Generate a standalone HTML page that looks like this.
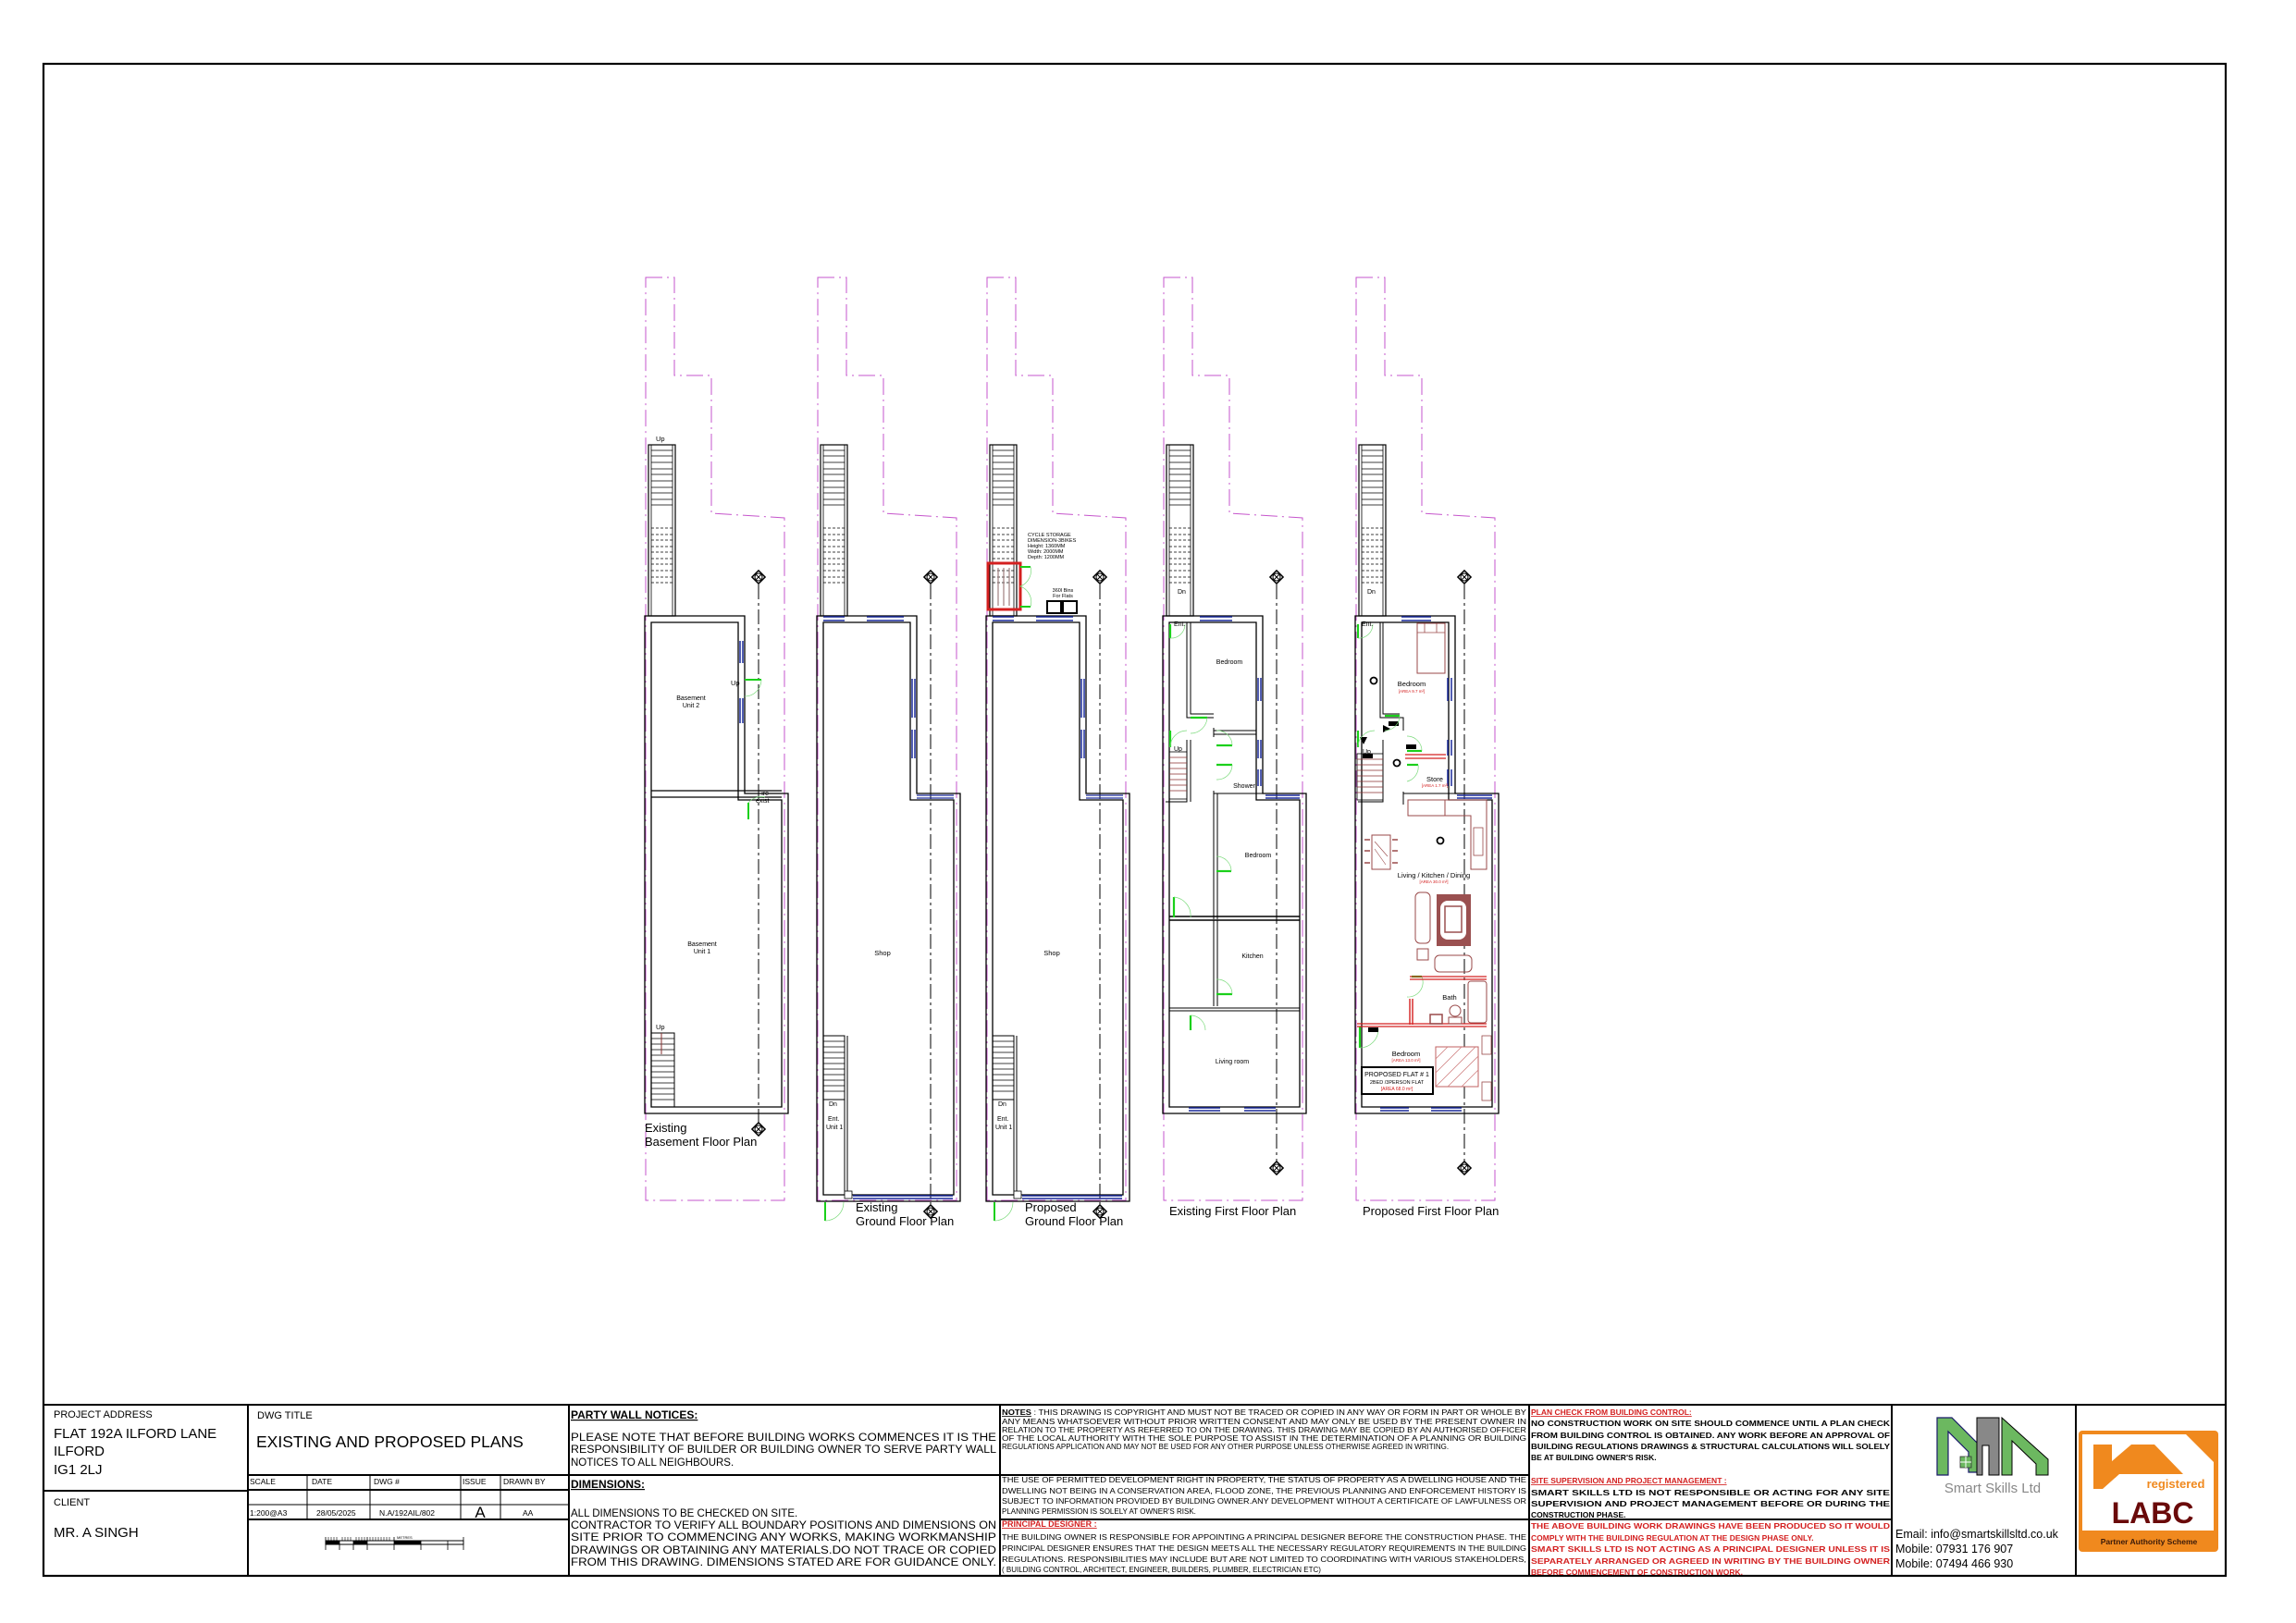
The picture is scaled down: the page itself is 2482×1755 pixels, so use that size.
<!DOCTYPE html>
<html><head><meta charset="utf-8">
<style>
html,body{margin:0;padding:0;background:#fff;}
svg{display:block;}
text{font-family:"Liberation Sans",sans-serif;}
</style></head>
<body>
<svg width="2482" height="1755" viewBox="0 0 2482 1755" xmlns="http://www.w3.org/2000/svg">
<defs>
  <g id="bound">
    <path d="M1,300 H32 V406 H72 V555 L151,560 V1298 H1 Z" fill="none" stroke="#c656cc" stroke-width="1" stroke-dasharray="18 5 2 5"/>
  </g>
  <g id="topstair">
    <rect x="4" y="481" width="29" height="185" fill="none" stroke="#000" stroke-width="1.2"/>
    <line x1="7" y1="481" x2="7" y2="666" stroke="#000" stroke-width="0.8"/>
    <line x1="30" y1="481" x2="30" y2="666" stroke="#000" stroke-width="0.8"/>
    <path d="M7,487H30M7,493H30M7,500H30M7,507H30M7,513H30M7,520H30M7,527H30M7,533H30M7,540H30M7,546H30" stroke="#000" stroke-width="0.8"/>
    <path d="M7,571H30M7,578H30M7,584H30M7,591H30M7,597H30M7,604H30M7,610H30M7,617H30M7,624H30M7,630H30" stroke="#000" stroke-width="0.8" stroke-dasharray="3 2"/>
  </g>
  <g id="marker">
    <rect x="-5" y="-5" width="10" height="10" transform="rotate(45)" fill="#fff" stroke="#000" stroke-width="1.5"/>
    <circle r="4" fill="#fff" stroke="#000" stroke-width="1"/>
    <path d="M-2.5,-2.5L2.5,2.5M2.5,-2.5L-2.5,2.5" stroke="#000" stroke-width="1"/>
  </g>
  <g id="shellA">
    <path d="M0,666 H108 V858 H155 V1204 H0 Z" fill="none" stroke="#000" stroke-width="1.3"/>
    <path d="M7,673 H101 V865 H148 V1197 H7 Z" fill="none" stroke="#000" stroke-width="1.3"/>
  </g>
  <g id="shellB">
    <path d="M0,666 H108 V858 H155 V1299 H0 Z" fill="none" stroke="#000" stroke-width="1.3"/>
    <path d="M7,673 H101 V865 H148 V1292 H7 Z" fill="none" stroke="#000" stroke-width="1.3"/>
  </g>
</defs>

<rect x="47" y="69" width="2359" height="1635" fill="none" stroke="#000" stroke-width="2.2"/>

<!-- PLAN 1 -->
<g transform="translate(697,0)">
  <use href="#bound"/>
  <use href="#topstair"/>
  <use href="#shellA"/>
  <line x1="123" y1="632" x2="123" y2="1214" stroke="#000" stroke-width="1" stroke-dasharray="16 4 3 4"/>
  <use href="#marker" x="123" y="624"/>
  <use href="#marker" x="123" y="1221"/>
  <path d="M7,855 H148 M7,862 H148" stroke="#000" stroke-width="1.2"/>
  <path d="M101,673 V855" stroke="#000" stroke-width="1"/>
  <path d="M103,693V717 M106,693V717 M103,755V782 M106,755V782" stroke="#1a2a9a" stroke-width="1.5"/>
  <path d="M108,735 H126" stroke="#1bd01b" stroke-width="2"/>
  <path d="M126,735 A18,18 0 0 1 108,753" fill="none" stroke="#7ada7a" stroke-width="0.7"/>
  <path d="M112,868 V886" stroke="#1bd01b" stroke-width="2"/>
  <path d="M112,868 A18,18 0 0 1 130,862" fill="none" stroke="#7ada7a" stroke-width="0.7"/>
  <rect x="7" y="1117" width="25" height="80" fill="none" stroke="#000" stroke-width="1"/>
  <path d="M7,1123H32M7,1129H32M7,1135H32M7,1141H32M7,1147H32M7,1153H32M7,1159H32M7,1165H32M7,1171H32M7,1177H32M7,1183H32M7,1189H32" stroke="#000" stroke-width="0.8"/>
  <line x1="18" y1="1117" x2="18" y2="1140" stroke="#8a3030" stroke-width="1"/>
  <text x="12" y="477" font-size="7.5">Up</text>
  <text x="93" y="741" font-size="7.5">Up</text>
  <text x="122" y="860" font-size="7">Fire</text>
  <text x="120" y="868" font-size="7">exist</text>
  <text x="12" y="1113" font-size="7.5">Up</text>
  <text x="50" y="757" font-size="7" text-anchor="middle">Basement</text>
  <text x="50" y="765" font-size="7" text-anchor="middle">Unit 2</text>
  <text x="62" y="1023" font-size="7" text-anchor="middle">Basement</text>
  <text x="62" y="1031" font-size="7" text-anchor="middle">Unit 1</text>
  <text x="0" y="1224" font-size="13">Existing</text>
  <text x="0" y="1239" font-size="13">Basement Floor Plan</text>
</g>

<!-- PLAN 2 -->
<g transform="translate(883,0)">
  <use href="#bound"/>
  <use href="#topstair"/>
  <use href="#shellB"/>
  <line x1="123" y1="632" x2="123" y2="1302" stroke="#000" stroke-width="1" stroke-dasharray="16 4 3 4"/>
  <use href="#marker" x="123" y="624"/>
  <use href="#marker" x="123" y="1310"/>
  <path d="M7,667H30 M7,671H30 M54,667H94 M54,671H94" stroke="#1a2a9a" stroke-width="1.5"/>
  <path d="M106,734V776 M103,734V776 M106,789V820 M103,789V820" stroke="#1a2a9a" stroke-width="1.5"/>
  <path d="M108,860H148 M108,863H148" stroke="#1a2a9a" stroke-width="1.2"/>
  <path d="M39,1293H147 M39,1296H147" stroke="#1a2a9a" stroke-width="1.5"/>
  <rect x="7" y="1120" width="23" height="69" fill="none" stroke="#000" stroke-width="1"/>
  <path d="M7,1126H30M7,1132H30M7,1138H30M7,1144H30M7,1150H30M7,1156H30M7,1162H30M7,1168H30M7,1174H30M7,1180H30" stroke="#000" stroke-width="0.8"/>
  <path d="M30,1120V1292 M33,1120V1292" stroke="#000" stroke-width="1"/>
  <rect x="30" y="1288" width="8" height="8" fill="#fff" stroke="#000" stroke-width="0.8"/>
  <path d="M9,1300V1320" stroke="#1bd01b" stroke-width="2"/>
  <path d="M9,1320 A20,20 0 0 0 29,1300" fill="none" stroke="#7ada7a" stroke-width="0.7"/>
  <text x="13" y="1196" font-size="7">Dn</text>
  <text x="12" y="1212" font-size="7">Ent.</text>
  <text x="10" y="1221" font-size="7">Unit 1</text>
  <text x="71" y="1033" font-size="7.5" text-anchor="middle">Shop</text>
  <text x="42" y="1310" font-size="13">Existing</text>
  <text x="42" y="1325" font-size="13">Ground Floor Plan</text>
</g>

<!-- PLAN 3 -->
<g transform="translate(1066,0)">
  <use href="#bound"/>
  <use href="#topstair"/>
  <use href="#shellB"/>
  <line x1="123" y1="632" x2="123" y2="1302" stroke="#000" stroke-width="1" stroke-dasharray="16 4 3 4"/>
  <use href="#marker" x="123" y="624"/>
  <use href="#marker" x="123" y="1310"/>
  <path d="M7,667H30 M7,671H30 M54,667H94 M54,671H94" stroke="#1a2a9a" stroke-width="1.5"/>
  <path d="M106,734V776 M103,734V776 M106,789V820 M103,789V820" stroke="#1a2a9a" stroke-width="1.5"/>
  <path d="M108,860H148 M108,863H148" stroke="#1a2a9a" stroke-width="1.2"/>
  <path d="M39,1293H147 M39,1296H147" stroke="#1a2a9a" stroke-width="1.5"/>
  <rect x="7" y="1120" width="23" height="69" fill="none" stroke="#000" stroke-width="1"/>
  <path d="M7,1126H30M7,1132H30M7,1138H30M7,1144H30M7,1150H30M7,1156H30M7,1162H30M7,1168H30M7,1174H30M7,1180H30" stroke="#000" stroke-width="0.8"/>
  <path d="M30,1120V1292 M33,1120V1292" stroke="#000" stroke-width="1"/>
  <rect x="30" y="1288" width="8" height="8" fill="#fff" stroke="#000" stroke-width="0.8"/>
  <path d="M9,1300V1320" stroke="#1bd01b" stroke-width="2"/>
  <path d="M9,1320 A20,20 0 0 0 29,1300" fill="none" stroke="#7ada7a" stroke-width="0.7"/>
  <rect x="2" y="609" width="35" height="50" fill="none" stroke="#d42020" stroke-width="3"/>
  <path d="M13,614V655 M19,614V655 M25,614V655" stroke="#a08080" stroke-width="1.2"/>
  <path d="M37,613 H48 M37,656 H48" stroke="#1bd01b" stroke-width="2"/>
  <path d="M48,613 A18,18 0 0 1 37,634 A18,18 0 0 1 48,656" fill="none" stroke="#7ada7a" stroke-width="0.7"/>
  <rect x="66" y="650" width="15" height="13" fill="none" stroke="#000" stroke-width="2"/>
  <rect x="83" y="650" width="15" height="13" fill="none" stroke="#000" stroke-width="2"/>
  <text x="45" y="580" font-size="5.5">CYCLE STORAGE</text>
  <text x="45" y="586" font-size="5.5">DIMENSION-3BIKES</text>
  <text x="45" y="592" font-size="5.5">Height: 1360MM</text>
  <text x="45" y="598" font-size="5.5">Width:  2000MM</text>
  <text x="45" y="604" font-size="5.5">Depth:  1200MM</text>
  <text x="83" y="640" font-size="5.5" text-anchor="middle">360l Bins</text>
  <text x="83" y="646" font-size="5.5" text-anchor="middle">For Flats</text>
  <text x="13" y="1196" font-size="7">Dn</text>
  <text x="12" y="1212" font-size="7">Ent.</text>
  <text x="10" y="1221" font-size="7">Unit 1</text>
  <text x="71" y="1033" font-size="7.5" text-anchor="middle">Shop</text>
  <text x="42" y="1310" font-size="13">Proposed</text>
  <text x="42" y="1325" font-size="13">Ground Floor Plan</text>
</g>

<!-- PLAN 4 -->
<g transform="translate(1257,0)">
  <use href="#bound"/>
  <use href="#topstair"/>
  <use href="#shellA"/>
  <line x1="123" y1="632" x2="123" y2="1256" stroke="#000" stroke-width="1" stroke-dasharray="16 4 3 4"/>
  <use href="#marker" x="123" y="624"/>
  <use href="#marker" x="123" y="1263"/>
  <path d="M26,673 V776 H55 M30,673 V772 H55" fill="none" stroke="#000" stroke-width="1"/>
  <path d="M26,800 V867 H3 M30,800 V867" fill="none" stroke="#000" stroke-width="1"/>
  <path d="M55,790 H101 M55,794 H101 M55,787 V797" fill="none" stroke="#000" stroke-width="1"/>
  <path d="M55,855 V994 M59,858 V994 M55,858 H108" fill="none" stroke="#000" stroke-width="1"/>
  <path d="M7,991 H148 M7,995 H148" stroke="#000" stroke-width="1.6"/>
  <path d="M55,995 V1088 M59,995 V1088" stroke="#000" stroke-width="1"/>
  <path d="M7,1090 H148 M7,1093 H148" stroke="#000" stroke-width="1"/>
  <rect x="7" y="813" width="19" height="51" fill="none" stroke="#000" stroke-width="0.8"/>
  <path d="M7,819H26M7,825H26M7,831H26M7,837H26M7,843H26M7,849H26M7,855H26" stroke="#8a3030" stroke-width="0.7"/>
  <path d="M40,667H75 M40,671H75 M103,733V758 M106,733V758 M103,800V820 M106,800V820 M103,832V850 M106,832V850 M111,860H148 M111,863H148 M28,1198H62 M28,1201H62 M88,1198H122 M88,1201H122" stroke="#1a2a9a" stroke-width="1.5"/>
  <g stroke="#1bd01b" stroke-width="2.2" fill="none">
    <path d="M8,675V690"/><path d="M8,790V808"/><path d="M30,776H48"/><path d="M58,806H75"/><path d="M58,827H75"/><path d="M58,942H74"/><path d="M12,970V992"/><path d="M58,1075H75"/><path d="M30,1098V1114"/>
  </g>
  <g stroke="#7ada7a" stroke-width="0.7" fill="none">
    <path d="M8,690 A15,15 0 0 0 24,675"/><path d="M8,808 A18,18 0 0 1 26,790"/><path d="M48,776 A18,18 0 0 1 30,793"/>
    <path d="M75,806 A16,16 0 0 0 58,790"/><path d="M75,827 A16,16 0 0 1 58,843"/><path d="M74,942 A16,16 0 0 0 58,926"/>
    <path d="M12,970 A20,20 0 0 1 30,992"/><path d="M75,1075 A16,16 0 0 0 58,1059"/><path d="M30,1098 A16,16 0 0 1 46,1114"/>
  </g>
  <text x="16" y="642" font-size="7">Dn</text>
  <text x="12" y="677" font-size="7">Ent.</text>
  <text x="12" y="812" font-size="7">Up</text>
  <text x="72" y="718" font-size="7" text-anchor="middle">Bedroom</text>
  <text x="88" y="852" font-size="7" text-anchor="middle">Shower</text>
  <text x="103" y="927" font-size="7" text-anchor="middle">Bedroom</text>
  <text x="97" y="1036" font-size="7" text-anchor="middle">Kitchen</text>
  <text x="75" y="1150" font-size="7" text-anchor="middle">Living room</text>
  <text x="7" y="1314" font-size="13">Existing First Floor Plan</text>
</g>

<!-- PLAN 5 -->
<g transform="translate(1465,0)">
  <use href="#bound"/>
  <use href="#topstair"/>
  <use href="#shellA"/>
  <line x1="118" y1="632" x2="118" y2="1256" stroke="#000" stroke-width="1" stroke-dasharray="16 4 3 4"/>
  <use href="#marker" x="118" y="624"/>
  <use href="#marker" x="118" y="1263"/>
  <path d="M27,673 V776 H52 V790 M30,673 V772 H48" fill="none" stroke="#000" stroke-width="1"/>
  <path d="M30,800 V867 H3" fill="none" stroke="#000" stroke-width="1"/>
  <rect x="2" y="815" width="28" height="50" fill="none" stroke="#000" stroke-width="0.8"/>
  <path d="M2,821H30M2,827H30M2,833H30M2,839H30M2,845H30M2,851H30M2,857H30" stroke="#8a3030" stroke-width="0.7"/>
  <path d="M54,816 H98 M54,820 H98" stroke="#d42020" stroke-width="1.2"/>
  <path d="M52,858 H108 M52,856 V870" fill="none" stroke="#000" stroke-width="1"/>
  <path d="M50,667H82 M50,671H82 M100,733V758 M104,733V758 M100,800V817 M104,800V817 M100,832V850 M104,832V850 M110,860H148 M110,863H148 M27,1198H58 M27,1201H58 M82,1198H115 M82,1201H115" stroke="#1a2a9a" stroke-width="1.5"/>
  <rect x="67" y="674" width="30" height="54" fill="none" stroke="#9a4a4a" stroke-width="1"/>
  <path d="M67,684H97 M75,674V684 M88,674V684" stroke="#9a4a4a" stroke-width="0.8"/>
  <circle cx="20" cy="736" r="3.5" fill="#fff" stroke="#000" stroke-width="1.8"/>
  <circle cx="45" cy="825" r="3.5" fill="#fff" stroke="#000" stroke-width="1.8"/>
  <circle cx="92" cy="909" r="3.5" fill="#fff" stroke="#000" stroke-width="1.8"/>
  <path d="M30,784 L38,788 L30,792 Z" fill="#000"/>
  <path d="M5,797 L13,797 L9,805 Z" fill="#000"/>
  <rect x="36" y="780" width="11" height="5" fill="#000"/>
  <rect x="8" y="815" width="11" height="5" fill="#000"/>
  <rect x="55" y="805" width="11" height="5" fill="#000"/>
  <g stroke="#1bd01b" stroke-width="2.2" fill="none">
    <path d="M3,675V690"/><path d="M3,790V808"/><path d="M32,774H48"/><path d="M56,812H72"/><path d="M56,827H68"/><path d="M61,1056H72"/><path d="M5,1110V1133"/>
  </g>
  <g stroke="#7ada7a" stroke-width="0.7" fill="none">
    <path d="M3,690 A15,15 0 0 0 19,675"/><path d="M3,808 A18,18 0 0 1 21,790"/><path d="M48,774 A16,16 0 0 1 32,790"/>
    <path d="M72,812 A16,16 0 0 0 56,796"/><path d="M68,827 A16,16 0 0 1 56,845"/><path d="M72,1056 A16,16 0 0 1 56,1078"/><path d="M5,1133 A20,20 0 0 0 25,1113"/>
  </g>
  <path d="M57,865 H97 V882 H57 Z M97,865 H142 V940 H125 V882 H97" fill="none" stroke="#9a4a4a" stroke-width="1"/>
  <rect x="128" y="895" width="10" height="30" fill="none" stroke="#9a4a4a" stroke-width="0.8"/>
  <rect x="18" y="903" width="20" height="37" fill="none" stroke="#9a4a4a" stroke-width="1"/>
  <path d="M21,910L35,926 M21,918L33,935" stroke="#9a4a4a" stroke-width="0.6"/>
  <path d="M10,908H16M10,920H16M10,933H16M40,908H46M40,920H46M40,933H46" stroke="#9a4a4a" stroke-width="1.5"/>
  <rect x="65" y="965" width="16" height="55" rx="5" fill="none" stroke="#9a4a4a" stroke-width="1"/>
  <rect x="88" y="967" width="37" height="56" fill="#9a5050"/>
  <rect x="92" y="974" width="28" height="42" rx="8" fill="#fff"/>
  <rect x="97" y="980" width="18" height="28" fill="none" stroke="#9a5050" stroke-width="1.5"/>
  <rect x="67" y="1026" width="12" height="12" fill="none" stroke="#9a4a4a" stroke-width="1"/>
  <rect x="86" y="1033" width="40" height="18" rx="5" fill="none" stroke="#9a4a4a" stroke-width="1"/>
  <path d="M59,1056 H142 M59,1059 H142" stroke="#d42020" stroke-width="1.2"/>
  <path d="M59,1080 V1108 M62,1080 V1108" stroke="#d42020" stroke-width="1.4"/>
  <path d="M2,1107 H142 M2,1110 H142" stroke="#d42020" stroke-width="1.2"/>
  <rect x="122" y="1061" width="20" height="45" rx="3" fill="none" stroke="#9a4a4a" stroke-width="1"/>
  <rect x="81" y="1097" width="13" height="10" fill="none" stroke="#9a4a4a" stroke-width="1.5"/>
  <circle cx="108" cy="1093" r="6" fill="none" stroke="#9a4a4a" stroke-width="1"/>
  <rect x="101" y="1100" width="14" height="7" fill="none" stroke="#9a4a4a" stroke-width="1"/>
  <rect x="87" y="1132" width="46" height="43" fill="#fff" stroke="#c06060" stroke-width="1"/>
  <path d="M87,1145 L100,1132 M87,1160 L115,1132 M87,1175 L130,1132 M100,1175 L133,1142 M115,1175 L133,1157" stroke="#d08080" stroke-width="0.8"/>
  <rect x="137" y="1120" width="10" height="20" fill="none" stroke="#9a4a4a" stroke-width="0.8"/>
  <rect x="137" y="1170" width="10" height="20" fill="none" stroke="#9a4a4a" stroke-width="0.8"/>
  <rect x="14" y="1111" width="11" height="5" fill="#000"/>
  <rect x="7" y="1154" width="77" height="29" fill="#fff" stroke="#000" stroke-width="2"/>
  <text x="45" y="1164" font-size="7" text-anchor="middle">PROPOSED FLAT # 1</text>
  <text x="45" y="1172" font-size="5.5" text-anchor="middle">2BED /3PERSON FLAT</text>
  <text x="45" y="1179" font-size="5" text-anchor="middle" fill="#d42020">[AREA 68.0 m²]</text>
  <text x="13" y="642" font-size="7">Dn</text>
  <text x="7" y="677" font-size="7">Ent.</text>
  <text x="8" y="815" font-size="7">Up</text>
  <text x="61" y="742" font-size="7.5" text-anchor="middle">Bedroom</text>
  <text x="61" y="749" font-size="4.5" text-anchor="middle" fill="#d42020">[AREA 9.7 m²]</text>
  <text x="86" y="845" font-size="7.5" text-anchor="middle">Store</text>
  <text x="86" y="851" font-size="4.5" text-anchor="middle" fill="#d42020">[AREA 1.7 m²]</text>
  <text x="85" y="949" font-size="7.5" text-anchor="middle">Living / Kitchen / Dining</text>
  <text x="85" y="955" font-size="4.5" text-anchor="middle" fill="#d42020">[AREA 30.0 m²]</text>
  <text x="102" y="1081" font-size="7.5" text-anchor="middle">Bath</text>
  <text x="55" y="1142" font-size="7.5" text-anchor="middle">Bedroom</text>
  <text x="55" y="1148" font-size="4.5" text-anchor="middle" fill="#d42020">[AREA 13.0 m²]</text>
  <text x="8" y="1314" font-size="13">Proposed First Floor Plan</text>
</g>

<!-- TITLE BLOCK -->
<g stroke="#000" stroke-width="2" fill="none">
  <line x1="47" y1="1519" x2="2406" y2="1519"/>
  <line x1="268" y1="1519" x2="268" y2="1704"/>
  <line x1="615" y1="1519" x2="615" y2="1704"/>
  <line x1="1081" y1="1519" x2="1081" y2="1704"/>
  <line x1="1653" y1="1519" x2="1653" y2="1704"/>
  <line x1="2045" y1="1519" x2="2045" y2="1704"/>
  <line x1="2244" y1="1519" x2="2244" y2="1704"/>
  <line x1="47" y1="1612" x2="268" y2="1612"/>
  <line x1="268" y1="1595" x2="1653" y2="1595"/>
  <line x1="268" y1="1611" x2="615" y2="1611"/>
  <line x1="268" y1="1643" x2="615" y2="1643"/>
  <line x1="1081" y1="1643" x2="2045" y2="1643"/>
</g>
<g stroke="#000" stroke-width="1">
  <line x1="332" y1="1595" x2="332" y2="1643"/>
  <line x1="400" y1="1595" x2="400" y2="1643"/>
  <line x1="498" y1="1595" x2="498" y2="1643"/>
  <line x1="541" y1="1595" x2="541" y2="1643"/>
  <line x1="268" y1="1627" x2="615" y2="1627"/>
</g>
<text x="58" y="1533" font-size="11">PROJECT ADDRESS</text>
<text x="58" y="1555" font-size="15">FLAT 192A ILFORD LANE</text>
<text x="58" y="1574" font-size="15">ILFORD</text>
<text x="58" y="1594" font-size="15">IG1 2LJ</text>
<text x="58" y="1628" font-size="11">CLIENT</text>
<text x="58" y="1662" font-size="15">MR. A SINGH</text>
<text x="278" y="1534" font-size="11">DWG TITLE</text>
<text x="277" y="1565" font-size="17.5">EXISTING AND PROPOSED PLANS</text>
<g font-size="8.5">
  <text x="270" y="1605">SCALE</text><text x="337" y="1605">DATE</text><text x="404" y="1605">DWG #</text><text x="500" y="1605">ISSUE</text><text x="544" y="1605">DRAWN BY</text>
  <text x="270" y="1639">1:200@A3</text><text x="342" y="1639">28/05/2025</text><text x="410" y="1639">N.A/192AIL/802</text><text x="565" y="1639">AA</text>
</g>
<text x="519" y="1641" font-size="17" text-anchor="middle">A</text>
<g stroke="#000">
  <rect x="352" y="1666" width="149" height="4" fill="none" stroke-width="1"/>
  <rect x="352" y="1666" width="15" height="4" fill="#000" stroke-width="0"/>
  <rect x="382" y="1666" width="15" height="4" fill="#000" stroke-width="0"/>
  <rect x="426" y="1666" width="29" height="4" fill="#000" stroke-width="0"/>
  <path d="M352,1662V1676 M367,1666V1676 M382,1666V1676 M397,1662V1676 M426,1662V1676 M455,1666V1676 M484,1666V1676 M501,1662V1676" stroke-width="0.8"/>
  <path d="M355,1662V1666M358,1662V1666M361,1662V1666M364,1662V1666M370,1662V1666M373,1662V1666M376,1662V1666M379,1662V1666M385,1662V1666M388,1662V1666M391,1662V1666M394,1662V1666M400,1662V1666M403,1662V1666M406,1662V1666M409,1662V1666M412,1662V1666M415,1662V1666M418,1662V1666M421,1662V1666" stroke-width="0.6"/>
</g>
<text x="429" y="1664" font-size="4">METRES</text>

<text x="617" y="1534" font-size="12" font-weight="bold" text-decoration="underline">PARTY WALL NOTICES:</text>
<g font-size="11.5">
  <text x="617" y="1558" textLength="460" lengthAdjust="spacingAndGlyphs">PLEASE NOTE THAT BEFORE BUILDING WORKS COMMENCES IT IS THE</text>
  <text x="617" y="1571" textLength="460" lengthAdjust="spacingAndGlyphs">RESPONSIBILITY OF BUILDER OR BUILDING OWNER TO SERVE PARTY WALL</text>
  <text x="617" y="1585">NOTICES TO ALL NEIGHBOURS.</text>
</g>
<text x="617" y="1609" font-size="12" font-weight="bold" text-decoration="underline">DIMENSIONS:</text>
<g font-size="11.5">
  <text x="617" y="1640">ALL DIMENSIONS TO BE CHECKED ON SITE.</text>
  <text x="617" y="1653" textLength="460" lengthAdjust="spacingAndGlyphs">CONTRACTOR TO VERIFY ALL BOUNDARY POSITIONS AND DIMENSIONS ON</text>
  <text x="617" y="1666" textLength="460" lengthAdjust="spacingAndGlyphs">SITE PRIOR TO COMMENCING ANY WORKS, MAKING WORKMANSHIP</text>
  <text x="617" y="1680" textLength="460" lengthAdjust="spacingAndGlyphs">DRAWINGS OR OBTAINING ANY MATERIALS.DO NOT TRACE OR COPIED</text>
  <text x="617" y="1693" textLength="460" lengthAdjust="spacingAndGlyphs">FROM THIS DRAWING. DIMENSIONS STATED ARE FOR GUIDANCE ONLY.</text>
</g>

<g font-size="8">
  <text x="1083" y="1530" textLength="567" lengthAdjust="spacingAndGlyphs"><tspan font-weight="bold" text-decoration="underline">NOTES</tspan> : THIS DRAWING IS COPYRIGHT AND MUST NOT BE TRACED OR COPIED IN ANY WAY OR FORM IN PART OR WHOLE BY</text>
  <text x="1083" y="1540" textLength="567" lengthAdjust="spacingAndGlyphs">ANY MEANS WHATSOEVER WITHOUT PRIOR WRITTEN CONSENT AND MAY ONLY BE USED BY THE PRESENT OWNER IN</text>
  <text x="1083" y="1549" textLength="567" lengthAdjust="spacingAndGlyphs">RELATION TO THE PROPERTY AS REFERRED TO ON THE DRAWING. THIS DRAWING MAY BE COPIED BY AN AUTHORISED OFFICER</text>
  <text x="1083" y="1558" textLength="567" lengthAdjust="spacingAndGlyphs">OF THE LOCAL AUTHORITY WITH THE SOLE PURPOSE TO ASSIST IN THE DETERMINATION OF A PLANNING OR BUILDING</text>
  <text x="1083" y="1567">REGULATIONS APPLICATION AND MAY NOT BE USED FOR ANY OTHER PURPOSE UNLESS OTHERWISE AGREED IN WRITING.</text>
  <text x="1083" y="1603" textLength="567" lengthAdjust="spacingAndGlyphs">THE USE OF PERMITTED DEVELOPMENT RIGHT IN PROPERTY, THE STATUS OF PROPERTY AS A DWELLING HOUSE AND THE</text>
  <text x="1083" y="1615" textLength="567" lengthAdjust="spacingAndGlyphs">DWELLING NOT BEING IN A CONSERVATION AREA, FLOOD ZONE, THE PREVIOUS PLANNING AND ENFORCEMENT HISTORY IS</text>
  <text x="1083" y="1626" textLength="567" lengthAdjust="spacingAndGlyphs">SUBJECT TO INFORMATION PROVIDED BY BUILDING OWNER.ANY DEVELOPMENT WITHOUT A CERTIFICATE OF LAWFULNESS OR</text>
  <text x="1083" y="1637">PLANNING PERMISSION IS SOLELY AT OWNER'S RISK.</text>
  <text x="1083" y="1651" fill="#d42020" font-weight="bold" text-decoration="underline" font-size="9">PRINCIPAL DESIGNER :</text>
  <text x="1083" y="1665" textLength="567" lengthAdjust="spacingAndGlyphs">THE BUILDING OWNER IS RESPONSIBLE FOR APPOINTING A PRINCIPAL DESIGNER BEFORE THE CONSTRUCTION PHASE. THE</text>
  <text x="1083" y="1677" textLength="567" lengthAdjust="spacingAndGlyphs">PRINCIPAL DESIGNER ENSURES THAT THE DESIGN MEETS ALL THE NECESSARY REGULATORY REQUIREMENTS IN THE BUILDING</text>
  <text x="1083" y="1689" textLength="567" lengthAdjust="spacingAndGlyphs">REGULATIONS. RESPONSIBILITIES MAY INCLUDE BUT ARE NOT LIMITED TO COORDINATING WITH VARIOUS STAKEHOLDERS,</text>
  <text x="1083" y="1700">( BUILDING CONTROL, ARCHITECT, ENGINEER, BUILDERS, PLUMBER, ELECTRICIAN ETC)</text>
</g>
<g font-size="8.5" font-weight="bold">
  <text x="1655" y="1530" fill="#d42020" text-decoration="underline">PLAN CHECK FROM BUILDING CONTROL:</text>
  <text x="1655" y="1542" textLength="388" lengthAdjust="spacingAndGlyphs">NO CONSTRUCTION WORK ON SITE SHOULD COMMENCE UNTIL A PLAN CHECK</text>
  <text x="1655" y="1555" textLength="388" lengthAdjust="spacingAndGlyphs">FROM BUILDING CONTROL IS OBTAINED. ANY WORK BEFORE AN APPROVAL OF</text>
  <text x="1655" y="1567" textLength="388" lengthAdjust="spacingAndGlyphs">BUILDING REGULATIONS DRAWINGS &amp; STRUCTURAL CALCULATIONS WILL SOLELY</text>
  <text x="1655" y="1579">BE AT BUILDING OWNER'S RISK.</text>
  <text x="1655" y="1604" fill="#d42020" text-decoration="underline">SITE SUPERVISION AND PROJECT MANAGEMENT :</text>
  <text x="1655" y="1617" textLength="388" lengthAdjust="spacingAndGlyphs">SMART SKILLS LTD IS NOT RESPONSIBLE OR ACTING FOR ANY SITE</text>
  <text x="1655" y="1629" textLength="388" lengthAdjust="spacingAndGlyphs">SUPERVISION AND PROJECT MANAGEMENT BEFORE OR DURING THE</text>
  <text x="1655" y="1641">CONSTRUCTION PHASE.</text>
  <g fill="#d42020">
  <text x="1655" y="1653" textLength="388" lengthAdjust="spacingAndGlyphs">THE ABOVE BUILDING WORK DRAWINGS HAVE BEEN PRODUCED SO IT WOULD</text>
  <text x="1655" y="1666">COMPLY WITH THE BUILDING REGULATION AT THE DESIGN PHASE ONLY.</text>
  <text x="1655" y="1678" textLength="388" lengthAdjust="spacingAndGlyphs">SMART SKILLS LTD IS NOT ACTING AS A PRINCIPAL DESIGNER UNLESS IT IS</text>
  <text x="1655" y="1691" textLength="388" lengthAdjust="spacingAndGlyphs">SEPARATELY ARRANGED OR AGREED IN WRITING BY THE BUILDING OWNER</text>
  <text x="1655" y="1703">BEFORE COMMENCEMENT OF CONSTRUCTION WORK.</text>
  </g>
</g>

<g>
  <path d="M2094,1533 H2110 L2140,1563 V1592 H2128 V1570 L2106,1548 V1595 H2094 Z" fill="#6cb860" stroke="#1a1a6a" stroke-width="1.2"/>
  <path d="M2137,1533 H2161 V1595 H2150 V1563 H2143 V1595 H2137 Z" fill="#888" stroke="#000" stroke-width="1"/>
  <path d="M2164,1533 L2214,1578 V1595 H2201 V1583 L2175,1558 V1595 H2164 Z" fill="#6cb860" stroke="#000" stroke-width="1"/>
  <rect x="2119" y="1575" width="12" height="12" fill="#6cb860" stroke="#333" stroke-width="0.8"/>
  <path d="M2125,1575V1587 M2119,1581H2131" stroke="#fff" stroke-width="1"/>
  <text x="2154" y="1614" font-size="15" fill="#888" text-anchor="middle">Smart  Skills  Ltd</text>
</g>
<text x="2049" y="1663" font-size="12.5">Email: info@smartskillsltd.co.uk</text>
<text x="2049" y="1679" font-size="12.5">Mobile: 07931 176 907</text>
<text x="2049" y="1695" font-size="12.5">Mobile: 07494 466 930</text>

<g>
  <rect x="2247" y="1547" width="151" height="131" rx="4" fill="#f0891e"/>
  <path d="M2251,1551 H2363 L2393,1581 V1655 H2251 Z" fill="#fff"/>
  <path d="M2263,1562 H2283 V1580 L2304,1562 H2329 L2360,1594 H2291 L2273,1610 H2263 Z" fill="#f0891e"/>
  <text x="2352" y="1609" font-size="13" font-weight="bold" fill="#f0891e" text-anchor="middle">registered</text>
  <text x="2327" y="1647" font-size="32" font-weight="bold" fill="#6a0a0a" text-anchor="middle">LABC</text>
  <text x="2323" y="1670" font-size="8.5" font-weight="bold" fill="#3a1a0a" text-anchor="middle">Partner Authority Scheme</text>
</g>
</svg>
</body></html>
